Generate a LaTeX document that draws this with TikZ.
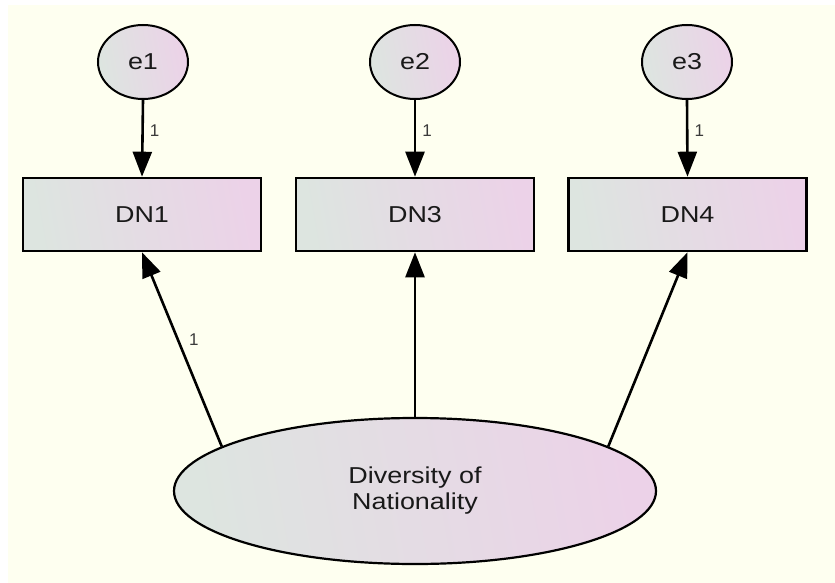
\documentclass[tikz,border=0pt]{standalone}
\usepackage{fontspec}
\setmainfont{Liberation Sans}
\newfontfamily\diagfont[FakeStretch=1.17]{Liberation Sans}
\usetikzlibrary{arrows.meta,shapes.geometric}

\definecolor{paper}{RGB}{254,255,240}
\definecolor{fillA}{RGB}{221,229,224}
\definecolor{fillB}{RGB}{236,210,232}
\definecolor{ink}{RGB}{25,25,25}

\tikzset{
  objfill/.style={left color=fillA, right color=fillB, shading angle=100},
  errnode/.style={ellipse, draw=black, line width=2pt, objfill,
    minimum width=90pt, minimum height=74pt, inner sep=0pt,
    font=\diagfont\fontsize{23}{25}\selectfont, text=ink},
  obsbox/.style={rectangle, draw=black, line width=2.6pt, objfill,
    minimum width=238pt, minimum height=73pt, inner sep=0pt,
    font=\diagfont\fontsize{23}{25}\selectfont, text=ink},
  latent/.style={ellipse, draw=black, line width=2.2pt, objfill,
    minimum width=482pt, minimum height=146pt, inner sep=0pt, align=center,
    font=\diagfont\fontsize{23}{26}\selectfont, text=ink},
  path/.style={line width=2.6pt, -{Triangle[length=25pt,width=19pt]}},
  wlabel/.style={font=\fontsize{17}{19}\selectfont, text=ink!85, inner sep=1pt}
}

\begin{document}
\begin{tikzpicture}[x=1pt,y=-1pt]
  % page and canvas
  \useasboundingbox (0,0) rectangle (835,583);
  \fill[white] (0,0) rectangle (835,583);
  \fill[paper] (8,5) rectangle (835,583);

  % error terms
  \node[errnode] (e1) at (143,62) {e1};
  \node[errnode] (e2) at (415,62) {e2};
  \node[errnode] (e3) at (687,62) {e3};

  % observed indicators
  \node[obsbox] (dn1) at (142,214.5) {DN1};
  \node[obsbox] (dn3) at (415,214.5) {DN3};
  \node[obsbox] (dn4) at (687.5,214.5) {DN4};

  % latent factor
  \node[latent] (dv) at (415,491) {Diversity of\\Nationality};

  % error paths
  \draw[path] (e1.south) -- node[wlabel, right=5pt, pos=0.4] {1} (dn1.north);
  \draw[path] (e2.south) -- node[wlabel, right=5pt, pos=0.4] {1} (dn3.north);
  \draw[path] (e3.south) -- node[wlabel, right=5pt, pos=0.4] {1} (dn4.north);

  % factor loadings
  \draw[path] (dv.167) -- node[wlabel, right=9pt, pos=0.55] {1} (dn1.south);
  \draw[path] (dv.north) -- (dn3.south);
  \draw[path] (dv.13) -- (dn4.south);
\end{tikzpicture}
\end{document}
